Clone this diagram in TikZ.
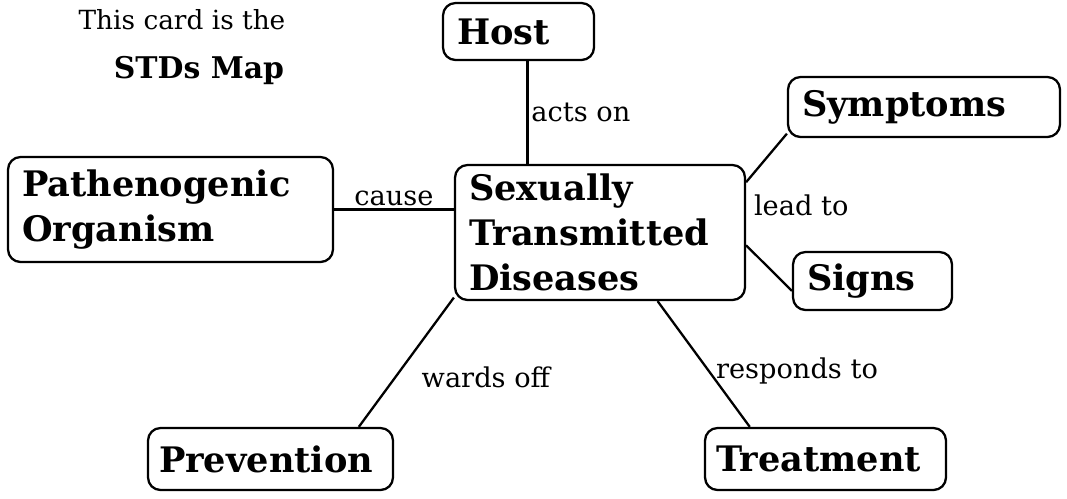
\documentclass[tikz,border=0pt]{standalone}
\usepackage{fontspec}
\setmainfont{DejaVu Serif}
\usepackage{tikz}
\usetikzlibrary{positioning, calc}

\begin{document}
\begin{tikzpicture}[
    x=0.02cm, y=-0.02cm,
    concept/.style={rectangle, draw, rounded corners=0.25cm, line width=1.3pt, align=left, inner xsep=0.28cm, font=\bfseries\fontsize{20}{25.5}\selectfont},
    linkword/.style={inner sep=1.5pt, font=\fontsize{15.5}{18}\selectfont},
    link/.style={line width=1.3pt}
]
\useasboundingbox (0,0) rectangle (1067,498);

\node[font=\fontsize{15}{18}\selectfont] (card) at (182,20) {This card is the};
\node[font=\bfseries\fontsize{17}{20}\selectfont] (title) at (199,71) {STDs Map};

\node[concept, text width=2.46cm, minimum height=1.14cm] (host) at (518.5,31.5) {Host};
\node[concept, text width=4.88cm, minimum height=1.2cm] (symptoms) at (924,107) {Symptoms};
\node[concept, text width=5.94cm, minimum height=2.1cm] (patho) at (170.5,209.5) {Pathenogenic\\Organism};
\node[concept, text width=5.24cm, minimum height=2.7cm] (std) at (600,232.5) {Sexually\\Transmitted\\Diseases};
\node[concept, text width=2.62cm, minimum height=1.16cm] (signs) at (872.5,281) {Signs};
\node[concept, inner xsep=0.22cm, text width=4.46cm, minimum height=1.24cm] (prevention) at (270.5,459) {Prevention};
\node[concept, inner xsep=0.22cm, text width=4.38cm, minimum height=1.24cm] (treatment) at (825.5,459) {Treatment};

\draw[link] (host.-73) -- (host.-73 |- std.north) node[linkword, right, midway] {acts on};
\draw[link] (patho.east) -- (patho.east -| std.west) node[linkword, above, midway] {cause};
\draw[link] (std.19) -- (symptoms.191);
\draw[link] (std.-5) -- (signs.187);
\node[linkword, anchor=west] (leadto) at (751,205) {lead to};
\draw[link] (std.204) -- (prevention.20) node[linkword, pos=0.615, right=0.45cm] {wards off};
\draw[link] (std.-50) -- (treatment.157) node[linkword, pos=0.555, right=2pt] {responds to};
\end{tikzpicture}
\end{document}
